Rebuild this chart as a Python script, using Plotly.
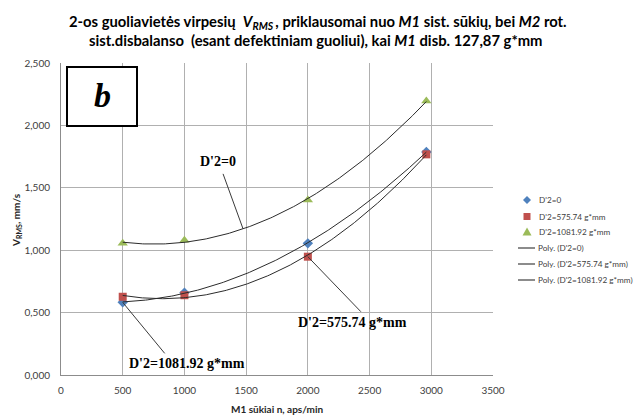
import numpy as np
import plotly.graph_objects as go

# Rotational speed of M1 (rpm) and measured RMS vibration velocity (mm/s)
rpm = [500, 1000, 2000, 2960]
v_d0 = [0.582, 0.660, 1.055, 1.787]
v_d575 = [0.627, 0.639, 0.948, 1.768]
v_d1081 = [1.055, 1.080, 1.402, 2.195]

series_names = ["D'2=0", "D'2=575.74 g*mm", "D'2=1081.92 g*mm"]
series_colors = ["#4F81BD", "#C0504D", "#9BBB59"]
series_symbols = ["diamond", "square", "triangle-up"]

x_ticks = [0, 500, 1000, 1500, 2000, 2500, 3000, 3500]
y_ticks = [0, 0.5, 1.0, 1.5, 2.0, 2.5]
y_tick_text = ["0,000", "0,500", "1,000", "1,500", "2,000", "2,500"]

series_values = [v_d0, v_d575, v_d1081]

W, H = 639, 416
ML, MR, MT, MB = 61, 146, 63, 41
PW, PH = W - ML - MR, H - MT - MB


def px(xp):
    """pixel column -> paper x"""
    return (xp - ML) / PW


def py(yp):
    """pixel row -> paper y"""
    return (H - MB - yp) / PH


fig = go.Figure()

# measured points
for name, vals, col, sym in zip(series_names, series_values, series_colors, series_symbols):
    fig.add_trace(go.Scatter(
        x=rpm, y=vals, mode="markers", name=name,
        marker=dict(color=col, symbol=sym, size=9 if sym == "triangle-up" else 8,
                    line=dict(width=0)),
    ))

# second-order polynomial trendlines
fits = []
xs = np.linspace(min(rpm), max(rpm), 200)
for name, vals in zip(series_names, series_values):
    coef = np.polyfit(rpm, vals, 2)
    fits.append(coef)
    fig.add_trace(go.Scatter(
        x=xs, y=np.polyval(coef, xs), mode="lines", name=f"Poly. ({name})",
        line=dict(color="#2b2b2b", width=1),
    ))

grid = "#B0B0B0"
tick_font = dict(family="Lato, Open Sans, sans-serif", size=10, color="#404040")

fig.update_layout(
    width=W, height=H,
    margin=dict(l=ML, r=MR, t=MT, b=MB, autoexpand=False),
    paper_bgcolor="white", plot_bgcolor="white",
    showlegend=False,
    xaxis=dict(range=[0, 3500], tickvals=x_ticks, showgrid=True, gridcolor=grid,
               gridwidth=1, zeroline=False, showline=True, linecolor="#8C8C8C",
               mirror=False, tickfont=tick_font, ticks="", ticklabelstandoff=6),
    yaxis=dict(range=[0, 2.5], tickvals=y_ticks, ticktext=y_tick_text, showgrid=True,
               gridcolor=grid, gridwidth=1, zeroline=False, showline=True,
               linecolor="#8C8C8C", mirror=False, tickfont=tick_font, ticks="",
               ticklabelstandoff=8),
)

# chart title (two lines)
title_font = dict(family="Lato, Open Sans, sans-serif", size=14.8, color="black")
fig.add_annotation(
    text="<b>2-os guoliavietės virpesių  <i>V<sub>RMS </sub></i>, priklausomai nuo <i>M1</i> sist. sūkių, bei <i>M2</i> rot.</b>",
    xref="paper", yref="paper", x=px(318), y=py(22),
    showarrow=False, font=title_font, xanchor="center", yanchor="middle")
fig.add_annotation(
    text="<b>sist.disbalanso  (esant defektiniam guoliui), kai <i>M1</i> disb. 127,87 g*mm</b>",
    xref="paper", yref="paper", x=px(316), y=py(40),
    showarrow=False, font=title_font, xanchor="center", yanchor="middle")

# axis titles
axis_title_font = dict(family="Lato, Open Sans, sans-serif", size=10, color="#262626")
fig.add_annotation(
    text="<b>V<sub>RMS</sub>, mm/s</b>", textangle=-90,
    xref="paper", yref="paper", x=px(16), y=py(220),
    showarrow=False, font=axis_title_font, xanchor="center", yanchor="middle")
fig.add_annotation(
    text="<b>M1 sūkiai n, aps/min</b>",
    xref="paper", yref="paper", x=px(277), y=py(409),
    showarrow=False, font=axis_title_font, xanchor="center", yanchor="middle")

# panel letter box
fig.add_shape(type="rect", xref="paper", yref="paper",
              x0=px(67), x1=px(137), y0=py(126), y1=py(67),
              line=dict(color="black", width=2), fillcolor="white")
fig.add_annotation(text="<b><i>b</i></b>", xref="paper", yref="paper",
                   x=px(102), y=py(96), showarrow=False,
                   font=dict(family="Liberation Serif, serif", size=34, color="black"),
                   xanchor="center", yanchor="middle")

# callout labels and leader lines
label_font = dict(family="Liberation Serif, serif", size=14, color="black")
fig.add_annotation(text="<b>D'2=0</b>", xref="paper", yref="paper",
                   x=px(218), y=py(161), showarrow=False,
                   font=label_font, xanchor="center", yanchor="middle")
fig.add_annotation(text="<b>D'2=575.74 g*mm</b>", xref="paper", yref="paper",
                   x=px(352), y=py(322), showarrow=False,
                   font=label_font, xanchor="center", yanchor="middle")
fig.add_annotation(text="<b>D'2=1081.92 g*mm</b>", xref="paper", yref="paper",
                   x=px(187), y=py(363), showarrow=False,
                   font=label_font, xanchor="center", yanchor="middle")

leader = dict(color="#3a3a3a", width=1)
x_on_curve = 1475
fig.add_shape(type="line", xref="x", yref="y", xsizemode="pixel", ysizemode="pixel",
              xanchor=x_on_curve, yanchor=float(np.polyval(fits[2], x_on_curve)),
              x0=0, y0=0, x1=-20, y1=55, line=leader)
fig.add_shape(type="line", xref="x", yref="y", xsizemode="pixel", ysizemode="pixel",
              xanchor=rpm[2], yanchor=v_d575[2],
              x0=0, y0=0, x1=53, y1=-55, line=leader)
fig.add_shape(type="line", xref="x", yref="y", xsizemode="pixel", ysizemode="pixel",
              xanchor=rpm[0], yanchor=v_d0[0],
              x0=0, y0=0, x1=42, y1=-51, line=leader)

# legend, drawn in the right margin
legend_font = dict(family="Lato, Open Sans, sans-serif", size=8.2, color="#404040")
rows = [200, 216.5, 232, 248, 264, 280]
mx = 527
for i, (name, col, sym) in enumerate(zip(series_names, series_colors, series_symbols)):
    r = rows[i]
    if sym == "diamond":
        path = f"M {px(mx)} {py(r - 4)} L {px(mx + 4)} {py(r)} L {px(mx)} {py(r + 4)} L {px(mx - 4)} {py(r)} Z"
    elif sym == "square":
        path = f"M {px(mx - 3.5)} {py(r - 3.5)} L {px(mx + 3.5)} {py(r - 3.5)} L {px(mx + 3.5)} {py(r + 3.5)} L {px(mx - 3.5)} {py(r + 3.5)} Z"
    else:
        path = f"M {px(mx)} {py(r - 4.5)} L {px(mx + 4.5)} {py(r + 3.5)} L {px(mx - 4.5)} {py(r + 3.5)} Z"
    fig.add_shape(type="path", xref="paper", yref="paper", path=path,
                  fillcolor=col, line=dict(width=0))
    fig.add_annotation(text=name, xref="paper", yref="paper", x=px(537), y=py(r),
                       showarrow=False, font=legend_font, xanchor="left", yanchor="middle")
for i, name in enumerate(series_names):
    r = rows[3 + i]
    fig.add_shape(type="line", xref="paper", yref="paper",
                  x0=px(518), x1=px(535), y0=py(r), y1=py(r),
                  line=dict(color="#404040", width=1.2))
    fig.add_annotation(text=f"Poly. ({name})", xref="paper", yref="paper", x=px(535.5), y=py(r),
                       showarrow=False, font=legend_font, xanchor="left", yanchor="middle")

fig.write_html("out.html")
